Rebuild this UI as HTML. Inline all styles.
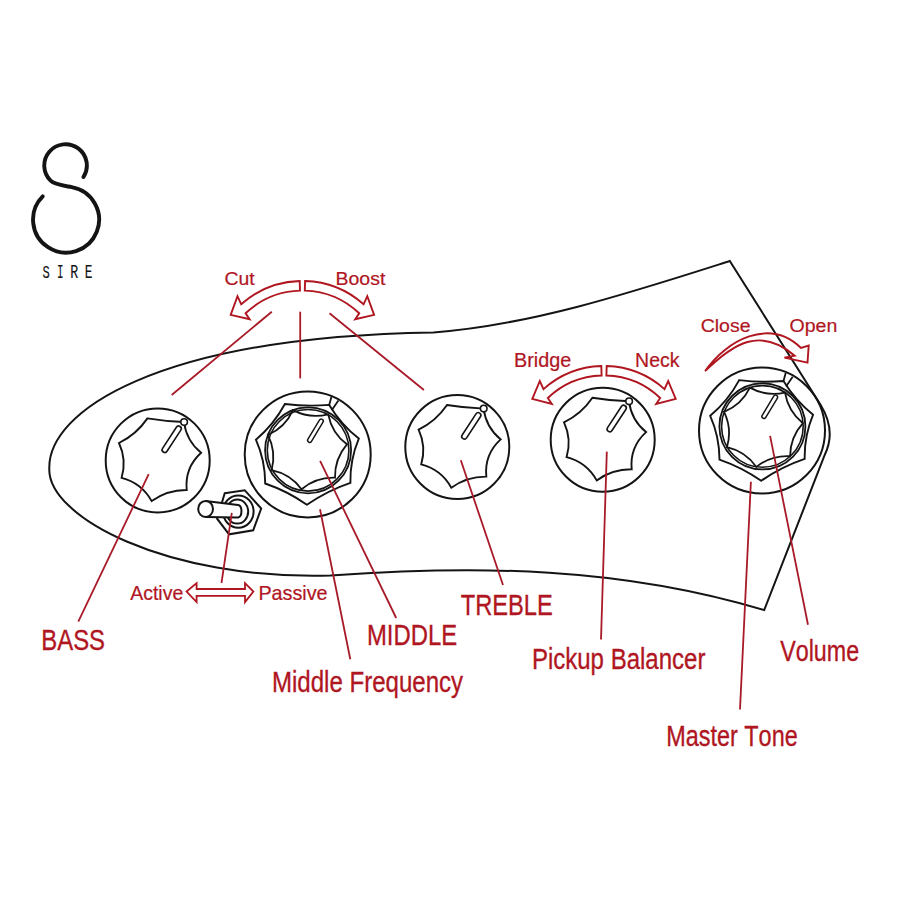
<!DOCTYPE html>
<html><head><meta charset="utf-8"><style>
html,body{margin:0;padding:0;background:#fff;}
svg{display:block;font-family:"Liberation Sans",sans-serif;font-kerning:none;}
</style></head><body>
<svg width="899" height="899" viewBox="0 0 899 899">
<rect width="899" height="899" fill="#fff"/>
<path d="M729.8,261 L820.7,405 Q836.5,431 824.7,455 L764.2,610.1 C621.0,567.0 478.6,565.0 330.5,575.5 C165.7,580.2 47.2,516.6 49.3,468.3 C48.1,412.6 153.6,336.8 433.4,332.4 C531.9,325.1 634.1,291.5 729.8,261 Z" fill="none" stroke="#141414" stroke-width="2" stroke-linejoin="miter"/>
<circle cx="157.7" cy="460.4" r="52" fill="none" stroke="#141414" stroke-width="2.0"/>
<path d="M147.4,418.4 Q136.5,434.5 119.0,443.0 Q126.9,459.9 121.6,477.8 Q141.7,483.0 151.7,501.1 Q167.4,489.8 186.7,490.0 Q184.6,467.8 201.1,452.8 Q186.4,440.8 184.0,422.0 Q165.6,421.4 147.4,418.4Z" fill="none" stroke="#141414" stroke-width="1.9" stroke-linejoin="miter"/>
<line x1="178.6" y1="428.7" x2="164.8" y2="449.8" stroke="#141414" stroke-width="6.9" stroke-linecap="round"/>
<line x1="178.6" y1="428.7" x2="164.8" y2="449.8" stroke="#fff" stroke-width="3.70" stroke-linecap="round"/>
<circle cx="184.1" cy="422.0" r="3.3" fill="#fff" stroke="#141414" stroke-width="1.6"/>
<circle cx="457.3" cy="447.0" r="52" fill="none" stroke="#141414" stroke-width="2.0"/>
<path d="M447.0,405.0 Q436.1,421.1 418.6,429.6 Q426.5,446.5 421.2,464.4 Q441.3,469.6 451.3,487.7 Q467.0,476.4 486.3,476.6 Q484.2,454.4 500.7,439.4 Q486.0,427.4 483.6,408.6 Q465.2,408.0 447.0,405.0Z" fill="none" stroke="#141414" stroke-width="1.9" stroke-linejoin="miter"/>
<line x1="478.2" y1="415.3" x2="464.4" y2="436.4" stroke="#141414" stroke-width="6.9" stroke-linecap="round"/>
<line x1="478.2" y1="415.3" x2="464.4" y2="436.4" stroke="#fff" stroke-width="3.70" stroke-linecap="round"/>
<circle cx="483.7" cy="408.6" r="3.3" fill="#fff" stroke="#141414" stroke-width="1.6"/>
<circle cx="602.7" cy="439.7" r="52" fill="none" stroke="#141414" stroke-width="2.0"/>
<path d="M592.4,397.7 Q581.5,413.8 564.0,422.3 Q571.9,439.2 566.6,457.1 Q586.7,462.3 596.7,480.4 Q612.4,469.1 631.7,469.3 Q629.6,447.1 646.1,432.1 Q631.4,420.1 629.0,401.3 Q610.6,400.7 592.4,397.7Z" fill="none" stroke="#141414" stroke-width="1.9" stroke-linejoin="miter"/>
<line x1="623.6" y1="408.0" x2="609.8" y2="429.1" stroke="#141414" stroke-width="6.9" stroke-linecap="round"/>
<line x1="623.6" y1="408.0" x2="609.8" y2="429.1" stroke="#fff" stroke-width="3.70" stroke-linecap="round"/>
<circle cx="629.1" cy="401.3" r="3.3" fill="#fff" stroke="#141414" stroke-width="1.6"/>
<circle cx="307.7" cy="454.4" r="63" fill="none" stroke="#141414" stroke-width="2.0"/>
<path d="M284.9,404.0 Q273.8,424.6 255.9,439.7 Q265.2,460.6 265.2,483.5 Q287.5,491.2 306.9,504.7 Q327.1,490.7 350.4,482.8 Q349.9,459.8 358.8,438.6 Q341.0,424.4 329.2,404.9 Q307.0,406.8 284.9,404.0Z" fill="none" stroke="#141414" stroke-width="1.9" stroke-linejoin="miter"/>
<path d="M329.2,404.9 L331.4,397.0 M338.4,400.6 L331.7,410.3" fill="none" stroke="#141414" stroke-width="1.8"/>
<circle cx="308.1" cy="450.3" r="43" fill="#fff" stroke="#141414" stroke-width="1.8"/>
<circle cx="308.1" cy="450.3" r="40.8" fill="none" stroke="#141414" stroke-width="1.6"/>
<path d="M293.0,410.1 Q309.8,418.9 328.2,414.3 Q331.8,432.9 346.9,444.3 Q334.6,458.7 335.0,477.7 Q316.1,477.1 301.5,489.2 Q290.2,474.0 271.6,470.2 Q276.5,451.9 267.9,435.0 Q285.2,427.4 293.0,410.1Z" fill="none" stroke="#141414" stroke-width="1.8"/>
<line x1="321.2" y1="421.1" x2="309.7" y2="440.3" stroke="#141414" stroke-width="5.6" stroke-linecap="round"/>
<line x1="321.2" y1="421.1" x2="309.7" y2="440.3" stroke="#fff" stroke-width="2.70" stroke-linecap="round"/>
<circle cx="762.0" cy="430.5" r="63" fill="none" stroke="#141414" stroke-width="2.0"/>
<path d="M739.2,380.1 Q728.1,400.7 710.2,415.8 Q719.5,436.7 719.5,459.6 Q741.8,467.3 761.2,480.8 Q781.4,466.8 804.7,458.9 Q804.2,435.9 813.1,414.7 Q795.3,400.5 783.5,381.0 Q761.3,382.9 739.2,380.1Z" fill="none" stroke="#141414" stroke-width="1.9" stroke-linejoin="miter"/>
<path d="M783.5,381.0 L785.7,373.1 M792.7,376.7 L786.0,386.4" fill="none" stroke="#141414" stroke-width="1.8"/>
<circle cx="762.4" cy="426.4" r="43" fill="#fff" stroke="#141414" stroke-width="1.8"/>
<circle cx="762.4" cy="426.4" r="40.8" fill="none" stroke="#141414" stroke-width="1.6"/>
<path d="M749.9,387.6 Q766.5,396.8 785.0,392.6 Q788.1,411.3 802.9,423.2 Q790.2,437.3 790.1,456.2 Q771.2,455.1 756.4,466.9 Q745.5,451.4 727.0,447.1 Q732.3,428.9 724.1,411.8 Q741.7,404.6 749.9,387.6Z" fill="none" stroke="#141414" stroke-width="1.8"/>
<line x1="775.5" y1="397.2" x2="764.0" y2="416.4" stroke="#141414" stroke-width="5.6" stroke-linecap="round"/>
<line x1="775.5" y1="397.2" x2="764.0" y2="416.4" stroke="#fff" stroke-width="2.70" stroke-linecap="round"/>
<path d="M224.7,493.3 L244.7,490.2 L261.2,508.5 L253.2,530.3 L229.1,534.3 L217.1,518.7Z" fill="#fff" stroke="#141414" stroke-width="2.0"/>
<ellipse cx="238.3" cy="511.6" rx="15.3" ry="16.2" fill="none" stroke="#141414" stroke-width="2.0"/>
<ellipse cx="237.3" cy="511.6" rx="10.9" ry="12.0" fill="none" stroke="#141414" stroke-width="2.0"/>
<path d="M205.6,500.9 L238,504.9 C242.6,505.5 242.6,517 238,517.4 L205.6,516.9" fill="#fff" stroke="#141414" stroke-width="2.0"/>
<ellipse cx="205.6" cy="508.9" rx="7.4" ry="8" fill="#fff" stroke="#141414" stroke-width="2.0"/>
<line x1="271.8" y1="311.7" x2="171.7" y2="395.0" stroke="#a81a28" stroke-width="1.8"/>
<line x1="300.2" y1="311.7" x2="300.2" y2="378.4" stroke="#a81a28" stroke-width="1.8"/>
<line x1="329.5" y1="313.3" x2="423.9" y2="390.0" stroke="#a81a28" stroke-width="1.8"/>
<line x1="148.7" y1="474.1" x2="78.3" y2="621.7" stroke="#a81a28" stroke-width="1.8"/>
<line x1="320.1" y1="460.9" x2="396.2" y2="618.0" stroke="#a81a28" stroke-width="1.8"/>
<line x1="320.0" y1="509.3" x2="350.3" y2="659.3" stroke="#a81a28" stroke-width="1.8"/>
<line x1="460.8" y1="460.2" x2="503.0" y2="585.0" stroke="#a81a28" stroke-width="1.8"/>
<line x1="606.8" y1="451.6" x2="601.0" y2="639.5" stroke="#a81a28" stroke-width="1.8"/>
<line x1="770.1" y1="435.9" x2="808.0" y2="624.7" stroke="#a81a28" stroke-width="1.8"/>
<line x1="750.9" y1="481.8" x2="740.0" y2="709.5" stroke="#a81a28" stroke-width="1.8"/>
<line x1="231.8" y1="512.9" x2="221.5" y2="583.0" stroke="#a81a28" stroke-width="1.8"/>
<path d="M299.7,281.0 A92.0,92.0 0 0 0 241.2,304.3 L237.5,296.2 L230.7,314.9 L249.6,319.2 L245.6,313.3 A82.4,82.4 0 0 1 300.0,290.6 Z" fill="none" stroke="#b0161f" stroke-width="1.9" stroke-linejoin="miter" stroke-miterlimit="8"/>
<path d="M305.1,281.0 A92.0,92.0 0 0 1 363.6,304.3 L367.3,296.2 L374.1,314.9 L355.2,319.2 L359.2,313.3 A82.4,82.4 0 0 0 304.8,290.6 Z" fill="none" stroke="#b0161f" stroke-width="1.9" stroke-linejoin="miter" stroke-miterlimit="8"/>
<path d="M601.3,366.0 A91.0,91.0 0 0 0 543.5,389.1 L539.8,381.0 L532.3,398.9 L551.8,403.9 L547.8,398.0 A81.5,81.5 0 0 1 601.6,375.5 Z" fill="none" stroke="#b0161f" stroke-width="1.9" stroke-linejoin="miter" stroke-miterlimit="8"/>
<path d="M606.7,366.0 A91.0,91.0 0 0 1 664.5,389.1 L668.2,381.0 L675.7,398.9 L656.2,403.9 L660.2,398.0 A81.5,81.5 0 0 0 606.4,375.5 Z" fill="none" stroke="#b0161f" stroke-width="1.9" stroke-linejoin="miter" stroke-miterlimit="8"/>
<path d="M705.1,371.1 C726.4,340.3 769.3,317.2 801,348 L808.7,345.5 L807.5,362.7 L784.4,357.6 L794.7,355.7 C759.8,326.2 733.4,343.6 705.1,371.1 Z" fill="none" stroke="#b0161f" stroke-width="1.9" stroke-linejoin="miter"/>
<path d="M186.6,591.5 L196.6,583.1 L196.6,589 L245,589 L245,583.1 L253.4,591.5 L245,602.1 L245,595.8 L196.6,595.8 L196.6,602.1 Z" fill="none" stroke="#b0161f" stroke-width="1.8" stroke-linejoin="miter"/>
<text transform="translate(224.42,285.00) scale(1.0728,1)" font-size="18.05" fill="#b0161f" stroke="#b0161f" stroke-width="0.21">Cut</text>
<text transform="translate(335.50,285.00) scale(1.0643,1)" font-size="18.31" fill="#b0161f" stroke="#b0161f" stroke-width="0.21">Boost</text>
<text transform="translate(514.08,366.60) scale(1.0160,1)" font-size="19.48" fill="#b0161f" stroke="#b0161f" stroke-width="0.22">Bridge</text>
<text transform="translate(635.10,366.60) scale(0.9999,1)" font-size="19.48" fill="#b0161f" stroke="#b0161f" stroke-width="0.22">Neck</text>
<text transform="translate(700.71,331.70) scale(1.0474,1)" font-size="18.62" fill="#b0161f" stroke="#b0161f" stroke-width="0.21">Close</text>
<text transform="translate(789.47,331.70) scale(1.0494,1)" font-size="18.62" fill="#b0161f" stroke="#b0161f" stroke-width="0.21">Open</text>
<text transform="translate(130.26,599.50) scale(0.9919,1)" font-size="19.62" fill="#b0161f" stroke="#b0161f" stroke-width="0.23">Active</text>
<text transform="translate(258.38,599.50) scale(1.0087,1)" font-size="19.62" fill="#b0161f" stroke="#b0161f" stroke-width="0.23">Passive</text>
<text transform="translate(41.24,649.80) scale(0.7879,1)" font-size="30.38" fill="#b0161f" stroke="#b0161f" stroke-width="0.35">BASS</text>
<text transform="translate(366.94,644.50) scale(0.8211,1)" font-size="29.07" fill="#b0161f" stroke="#b0161f" stroke-width="0.33">MIDDLE</text>
<text transform="translate(460.67,614.90) scale(0.8149,1)" font-size="29.07" fill="#b0161f" stroke="#b0161f" stroke-width="0.33">TREBLE</text>
<text transform="translate(271.93,691.50) scale(0.8359,1)" font-size="28.78" fill="#b0161f" stroke="#b0161f" stroke-width="0.33">Middle Frequency</text>
<text transform="translate(531.93,668.80) scale(0.8217,1)" font-size="29.22" fill="#b0161f" stroke="#b0161f" stroke-width="0.34">Pickup Balancer</text>
<text transform="translate(780.20,661.10) scale(0.7775,1)" font-size="29.94" fill="#b0161f" stroke="#b0161f" stroke-width="0.34">Volume</text>
<text transform="translate(666.28,745.60) scale(0.7937,1)" font-size="29.51" fill="#b0161f" stroke="#b0161f" stroke-width="0.34">Master Tone</text>
<path d="M83.5,177 A21.3,21.3 0 1 0 50.6,180.7 C54.8,184.9 63.8,185.7 71.7,187.1 A33,33 0 1 1 42.7,196.3" fill="none" stroke="#141414" stroke-width="3.9" stroke-linecap="round"/>
<text transform="translate(42.53,277.9) scale(0.6277,1)" font-size="19.28" fill="#141414" stroke="#141414" stroke-width="0.15" font-family="Liberation Mono, monospace">S</text>
<text transform="translate(56.92,277.9) scale(0.5591,1)" font-size="19.58" fill="#141414" stroke="#141414" stroke-width="0.15" font-family="Liberation Mono, monospace">I</text>
<text transform="translate(70.35,277.9) scale(0.6800,1)" font-size="19.58" fill="#141414" stroke="#141414" stroke-width="0.15" font-family="Liberation Mono, monospace">R</text>
<text transform="translate(84.69,277.9) scale(0.6536,1)" font-size="19.58" fill="#141414" stroke="#141414" stroke-width="0.15" font-family="Liberation Mono, monospace">E</text>
</svg>
</body></html>
